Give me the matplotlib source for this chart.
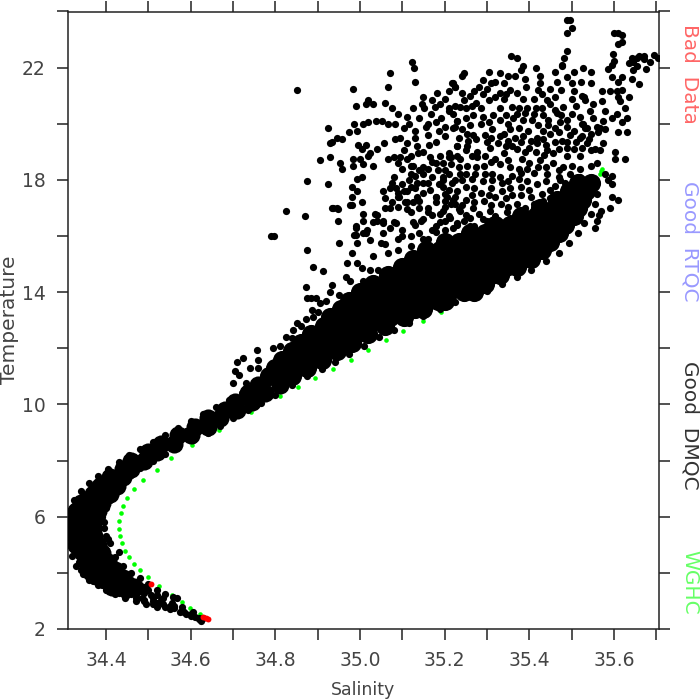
import matplotlib
matplotlib.use("Agg")
import matplotlib.pyplot as plt

# WGHC climatology
wghc_S = [34.622,34.598,34.58,34.556,34.525,34.5,34.48,34.466,34.454,34.445,34.438,34.433,34.431,34.431,34.436,34.44,34.45,34.466,34.488,34.52,34.554,34.603,34.667,34.743,34.811,34.854,34.894,34.937,34.979,35.019,35.062,35.102,35.149,35.192,35.566,35.569,35.571]
wghc_T = [2.55,2.75,2.96,3.2,3.53,3.85,4.1,4.33,4.55,4.78,5.05,5.3,5.58,5.85,6.12,6.38,6.66,7.0,7.3,7.67,8.08,8.55,9.1,9.73,10.3,10.63,10.94,11.28,11.6,11.93,12.28,12.6,12.96,13.3,18.2,18.3,18.4]

# Bad data
bad_S = [34.506,34.63,34.636,34.64]
bad_T = [3.6,2.42,2.38,2.35]

# Dense part of the T-S body: one S list per temperature level
cold_T = [3.5,3.8,4.1,4.4,4.7,5.0,5.3,5.6,5.9,6.2,6.5,6.8,7.1,7.4,7.7,8.0,8.3,8.6,8.9,9.2,9.5,9.8,10.1,10.4,10.7]
cold_S = [
 [34.415,34.44,34.465],[34.385,34.41,34.44],[34.37,34.395,34.42],[34.355,34.38,34.405],
 [34.345,34.37,34.39],[34.33,34.355,34.38],[34.327,34.35,34.372],[34.327,34.35,34.37],
 [34.327,34.35,34.372],[34.33,34.355,34.38],[34.34,34.365,34.39],[34.37,34.395,34.41],
 [34.385,34.41,34.425],[34.41,34.44],[34.44,34.46],[34.46,34.49],[34.50,34.52],[34.53,34.56],
 [34.57,34.60],[34.61,34.64],[34.64,34.67],[34.68,34.71],[34.705,34.745],[34.735,34.775],
 [34.76,34.81]]
warm_T = [11.0,11.3,11.6,11.9,12.2,12.5,12.8,13.1,13.4,13.7,14.0,14.3,14.6,14.9,15.2,15.5,15.8,16.1,16.4,16.7,17.0,17.3,17.6,17.9]
warm_S = [
 [34.785,34.82,34.84],[34.80,34.835,34.875],[34.815,34.85,34.885,34.91],
 [34.84,34.875,34.91,34.945],[34.86,34.895,34.93,34.965,34.98],[34.885,34.92,34.955,34.99,35.02],
 [34.915,34.95,34.985,35.02,35.06],[34.93,34.965,35.0,35.035,35.07,35.105],
 [34.955,34.99,35.025,35.06,35.095,35.13,35.15],[34.975,35.01,35.045,35.08,35.115,35.15,35.185,35.2],
 [35.0,35.035,35.07,35.105,35.14,35.175,35.21,35.245,35.27],[35.03,35.065,35.1,35.135,35.17,35.205,35.24,35.275,35.295],
 [35.065,35.1,35.135,35.17,35.205,35.24,35.275,35.31,35.33],[35.1,35.135,35.17,35.205,35.24,35.275,35.31,35.345,35.37],
 [35.125,35.16,35.195,35.23,35.265,35.30,35.335,35.37,35.405],[35.155,35.19,35.225,35.26,35.295,35.33,35.365,35.40,35.43],
 [35.20,35.235,35.27,35.305,35.34,35.375,35.41,35.45],[35.26,35.295,35.33,35.365,35.40,35.435,35.47],
 [35.32,35.355,35.39,35.425,35.46,35.485],[35.38,35.415,35.45,35.485,35.505],[35.425,35.46,35.495,35.515],
 [35.465,35.495,35.525],[35.495,35.535],[35.515,35.545]]

# Outer (cold, fresh) edge of the body
edge_low = [(34.625,2.3),(34.60,2.45),(34.575,2.6),(34.55,2.7),(34.52,2.8),(34.495,2.88),(34.47,2.98),(34.445,3.1),(34.42,3.25),(34.40,3.4),(34.38,3.55),(34.36,3.75),(34.345,3.95),(34.33,4.25),(34.32,4.6),(34.315,5.0),(34.312,5.4),(34.312,5.8),(34.315,6.2),(34.325,6.6),(34.34,6.9),(34.36,7.2),(34.38,7.45),(34.405,7.7),(34.43,7.95),(34.455,8.2),(34.48,8.4),(34.51,8.65),(34.54,8.9),(34.57,9.15),(34.60,9.4),(34.63,9.65),(34.66,9.9),(34.69,10.15),(34.72,10.4),(34.74,10.6)]
tip_mid = [(34.61,2.42),(34.585,2.6),(34.56,2.75),(34.535,2.88),(34.51,3.0),(34.485,3.1),(34.46,3.25),(34.435,3.4),(34.41,3.6),(34.63,2.4),(34.605,2.6),(34.58,2.78),(34.555,2.92),(34.53,3.05),(34.505,3.2),(34.48,3.35),(34.455,3.55),(34.43,3.75),(34.45,3.65),(34.47,3.5),(34.49,3.3),(34.51,3.12),(34.44,3.25),(34.42,3.45),(34.40,3.65),(34.38,3.85),(34.335,4.4),(34.34,4.7),(34.345,4.2),(34.36,4.0),(34.375,3.75),(34.40,3.5),(34.43,3.55),(34.45,3.4),(34.47,3.2),(34.49,3.05),(34.52,2.92),(34.55,2.82),(34.59,2.55),(34.62,2.4)]
tip_up = [(34.43,4.75),(34.42,4.55),(34.44,4.25),(34.46,4.0),(34.48,3.8),(34.50,3.6),(34.52,3.4),(34.54,3.25),(34.568,3.12),(34.557,3.14)]
tip_fill = [(34.62,2.35),(34.60,2.52),(34.58,2.65),(34.56,2.82),(34.54,2.8),(34.53,2.95),(34.51,2.9),(34.49,3.0),(34.47,3.1),(34.45,3.2),(34.43,3.3),(34.41,3.4),(34.39,3.55),(34.37,3.7),(34.355,3.9),(34.34,4.1),(34.52,3.2),(34.50,3.4),(34.48,3.55),(34.46,3.75),(34.44,3.95),(34.42,4.15),(34.41,4.4),(34.40,4.7),(34.39,4.95),(34.535,3.1),(34.49,3.5),(34.47,3.65),(34.45,3.85),(34.43,4.05),(34.415,4.3),(34.40,4.5),(34.39,4.8),(34.41,3.9),(34.39,4.05),(34.375,4.3),(34.36,4.5),(34.35,4.35),(34.33,4.9),(34.32,5.2),(34.33,6.5),(34.345,6.8),(34.37,7.05),(34.39,7.3),(34.42,7.55),(34.445,7.8),(34.47,8.05),(34.5,8.3),(34.53,8.55),(34.56,8.8),(34.59,9.05),(34.62,9.35),(34.65,9.6),(34.68,9.85),(34.71,10.1),(34.74,10.35),(34.77,10.6),(34.79,10.9),(34.765,10.85)]

# Warm, saline edge of the body
edge_high = [(34.40,5.3),(34.395,5.6),(34.39,6),(34.395,5.8),(34.405,5.2),(34.41,5.05),(34.4,6.3),(34.41,6.6),(34.425,6.9),(34.44,7.2),(34.46,7.5),(34.48,7.75),(34.51,8.0),(34.54,8.25),(34.57,8.5),(34.605,8.75),(34.64,9.0),(34.67,9.25),(34.70,9.5),(34.735,9.8),(34.765,10.05),(34.80,10.35),(34.84,10.7),(34.875,11.0),(34.91,11.25),(34.94,11.5),(34.975,11.8),(35.01,12.1),(35.045,12.4),(35.08,12.65),(35.115,12.9),(35.15,13.15),(35.19,13.4),(35.225,13.65),(35.26,13.85),(35.30,14.05),(35.335,14.3),(35.37,14.55),(35.405,14.8),(35.44,15.1),(35.47,15.4),(35.495,15.75),(35.515,16.1),(35.53,16.45),(35.545,16.8),(35.555,17.15),(35.56,17.5)]

# Scatter above the body, left side
scatter_left = [(34.825,16.9),(34.87,16.7),(34.79,16.0),(34.796,16.0),(34.875,15.5),(34.89,14.9),(34.913,14.75),(34.873,14.2),(34.875,13.8),(34.885,13.8),(34.897,13.8),(34.906,13.6),(34.887,13.35),(34.89,13.1),(34.873,13.05),(34.86,12.8),(34.842,12.65),(34.84,12.35),(34.81,12.1),(34.795,12.0),(34.757,11.95),(34.724,11.65),(34.71,11.5),(34.76,11.6),(34.76,11.3),(34.74,11.3),(34.705,11.2),(34.715,11.05),(34.73,10.75),(34.70,10.75),(34.825,12.4),(34.85,12.9),(34.9,13.3),(34.92,13.7),(34.93,14.0),(34.95,13.9),
(34.934,17.0),(34.945,17.0),(34.948,16.55),(34.95,15.75),(34.977,17.1),(34.99,16.35),(34.986,16.05),(34.97,15.05),(34.993,15.05),(34.967,14.55),(34.977,14.4),(34.934,14.25),(35.007,14.4),(35.024,14.8),(35.005,14.85),(34.98,15.4),(34.992,15.75),(35.007,16.1),(35.017,16.2),(35.007,16.55),(35.007,16.8),(35.036,16.8),(35.04,16.55),(35.055,16.55),(35.024,15.85),(35.03,15.3),(35.055,16.1),(35.05,15.75),(35.065,15.4),(35.043,14.8),
(34.85,21.2),(35.123,22.2),(35.128,22.0),(35.07,21.8),(35.13,21.5),(35.067,21.3),(34.984,21.25),(35.02,20.85),(35.03,20.7),(35.015,20.7),(34.99,20.65),(35.06,20.75),(35.076,20.55),(35.09,20.35),(35.125,20.55),(34.925,19.85),(34.986,20.0),(35.008,20.0),(35.02,20.05),(35.038,20.1),(35.052,20.1),(35.067,20.0),(35.083,20.0),(34.993,19.75),(34.975,19.7),(34.946,19.5),(34.958,19.45),(34.934,19.35),(34.93,19.3),(34.996,19.25),(35.015,19.25),(35.005,19.1),(35.04,19.1),(35.057,19.3),(35.024,18.95),(35.02,18.85),(34.93,18.8),(34.906,18.7),(34.984,18.75),(35.0,18.75),(34.984,18.5),(34.953,18.6),(34.958,18.4),(35.008,18.55),(35.03,18.5),(34.875,17.95),(34.925,17.85),(34.993,18.05),(35.005,18.1),(34.98,17.75),(34.993,17.6),(34.98,17.4),(34.98,17.1),(35.005,17.2),(34.937,17.0),(34.948,16.95)]

# Ring of points near S = 35.1, and the lower middle
scatter_ring = [(35.065,18.75),(35.08,18.8),(35.095,18.8),(35.11,18.75),(35.12,18.5),(35.12,18.2),(35.115,18.0),(35.10,17.85),(35.085,17.7),(35.075,17.9),(35.08,18.1),(35.07,17.7),(35.105,17.6),(35.09,17.55),(35.055,17.6),(35.06,17.35),(35.135,17.9),(35.15,18.2),
(35.09,17.4),(35.11,17.2),(35.14,17.25),(35.07,17.0),(35.09,17.05),(35.12,16.85),(35.16,17.0),(35.18,17.4),(35.2,17.5),(35.22,17.3),(35.2,17.05),(35.08,16.5),(35.1,16.2),(35.12,16.0),(35.13,16.4),(35.15,16.6),(35.17,16.2),(35.09,15.9),(35.07,16.3),(35.16,15.9),(35.1,16.0),(35.14,16.1),(35.18,16.15),(35.22,16.3),(35.26,16.35),(35.3,16.4),(35.06,15.7),(35.09,15.5),(35.12,15.65),(35.15,15.9),
(35.148,20.95),(35.182,21.1),(35.218,21.45),(35.225,21.3),(35.147,20.7),(35.152,20.55),(35.178,20.6),(35.19,20.7),(35.21,20.55),(35.225,20.65),(35.168,20.35),(35.192,20.2),(35.22,20.35),(35.23,20.1),(35.225,19.9),(35.16,20.0),(35.155,19.9),(35.187,19.75),(35.115,20.0),(35.103,19.85),(35.083,19.45),(35.095,19.5),(35.112,19.3),(35.13,19.5),(35.105,19.05),(35.162,19.25),(35.15,19.0),(35.165,18.8),(35.138,18.95),(35.23,19.2),(35.21,18.95),(35.215,18.8),(35.23,18.85),(35.17,18.65),(35.125,18.5),(35.148,18.45),(35.14,18.35),(35.185,18.35),(35.2,18.35),(35.21,18.2),(35.195,18.1),(35.187,17.85),(35.225,18.0),(35.237,18.2),(35.148,17.9),(35.165,17.65),(35.18,17.4),(35.15,17.55),(35.135,17.4),(35.225,17.4),(35.12,17.75),(35.093,17.4),(35.107,17.2),(35.125,17.2),(35.14,17.0),(35.18,17.2),(35.17,16.75),(35.215,17.15),(35.235,16.95),(35.11,16.95),(35.075,17.2),(35.06,17.0),(35.04,16.75),(35.03,16.5),(35.055,16.45),(35.085,16.45),(35.125,16.5),(35.145,16.55),(35.19,16.5),(35.21,16.7),(35.23,16.45),(35.015,16.1),(34.99,16.3),(34.99,16.05)]

# Scatter above the body, right side
scatter_right = [(35.49,23.7),(35.497,23.7),(35.5,23.4),(35.49,23.25),(35.6,23.25),(35.61,23.25),(35.618,23.15),(35.618,22.9),(35.61,22.85),(35.488,22.6),(35.482,22.35),(35.478,22.1),(35.357,22.4),(35.372,22.35),(35.598,22.5),(35.6,22.25),(35.595,22.1),(35.585,21.95),(35.595,21.65),(35.643,22.35),(35.66,22.4),(35.67,22.4),(35.695,22.45),(35.705,22.35),(35.655,22.35),(35.685,22.2),(35.67,22.3),(35.635,22.15),(35.645,22.2),(35.655,22.05),(35.675,21.95),(35.645,21.9),(35.642,21.6),(35.62,21.65),(35.61,21.5),(35.66,21.4),(35.62,21.2),(35.572,21.15),(35.59,21.15),(35.608,21.15),(35.61,20.95),(35.635,20.95),(35.615,20.8),(35.572,20.8),(35.525,21.0),(35.532,20.85),(35.625,20.55),(35.543,20.45),(35.58,20.45),(35.607,20.35),(35.595,20.2),(35.63,20.2),(35.62,20.05),(35.575,20.1),(35.525,20.0),(35.532,19.85),(35.568,19.85),(35.58,19.8),(35.61,19.7),(35.63,19.7),(35.563,19.7),(35.547,19.65),(35.54,19.45),(35.52,19.5),(35.575,19.3),(35.603,19.0),(35.627,18.75),(35.603,18.75),(35.555,19.1),(35.568,19.05),
(35.595,17.4),(35.61,17.3),(35.59,17.0),(35.57,16.9),(35.58,18.2),(35.595,18.15),(35.585,18.0),(35.595,17.85),(35.56,16.55),(35.555,16.3),(35.565,16.75),
(35.245,21.8),(35.24,21.7),(35.22,21.45),(35.225,21.3),(35.305,21.85),(35.29,21.55),(35.31,21.45),(35.30,21.25),(35.32,21.5),(35.33,21.8),(35.35,21.7),(35.34,21.45),(35.367,21.7),(35.385,22.05),(35.38,21.9),(35.417,22.0),(35.425,21.7),(35.425,21.45),(35.42,21.2),(35.39,21.6),(35.393,21.3),(35.46,21.85),(35.465,21.5),(35.478,22.05),(35.505,21.85),(35.49,21.65),(35.5,21.45),(35.527,22.0),(35.545,21.85),(35.523,21.5),(35.545,21.45),(35.53,20.95),
(35.26,21.0),(35.245,20.85),(35.237,20.6),(35.265,20.65),(35.285,20.55),(35.268,20.3),(35.25,20.2),(35.21,20.45),(35.23,20.1),(35.305,20.85),(35.32,20.95),(35.34,20.9),(35.355,21.2),(35.33,21.1),(35.36,20.6),(35.375,20.55),(35.395,20.55),(35.415,20.55),(35.443,20.85),(35.45,20.7),(35.46,20.95),(35.465,20.4),(35.433,20.3),(35.362,20.2),(35.385,20.15),(35.407,20.15),(35.49,20.15),(35.473,20.05),(35.305,20.05),(35.285,20.0),(35.22,19.85),(35.253,19.65),(35.268,19.6),(35.312,19.8),(35.295,19.6),(35.355,19.8),(35.367,19.5),(35.397,19.75),(35.433,19.75),(35.45,19.65),(35.46,19.85),(35.418,19.5),(35.433,19.45),(35.478,19.4),(35.497,19.6),(35.527,20.0),(35.537,19.85),
(35.23,19.2),(35.253,19.2),(35.277,19.0),(35.308,19.15),(35.325,19.3),(35.34,18.95),(35.37,19.1),(35.4,19.15),(35.418,19.3),(35.443,19.05),(35.457,18.95),(35.49,18.85),(35.52,18.85),(35.505,19.1),(35.537,19.3),(35.21,18.8),(35.237,18.75),(35.253,18.5),(35.277,18.8),(35.292,18.5),(35.32,18.75),(35.35,18.7),(35.383,18.75),(35.40,18.6),(35.425,18.7),(35.457,18.6),(35.48,18.45),(35.5,18.5),(35.52,18.4),(35.545,18.5),(35.56,18.6),
(35.25,18.2),(35.272,18.2),(35.295,18.2),(35.312,18.2),(35.335,17.9),(35.36,18.15),(35.38,18.25),(35.41,18.25),(35.443,18.2),(35.47,18.1),(35.497,18.2),(35.52,18.1),(35.312,18.0),(35.218,17.9),(35.197,18.0),(35.25,17.75),(35.285,17.55),(35.23,17.6),(35.265,17.45),(35.205,17.4),(35.225,17.15),(35.292,17.25),(35.32,17.4),(35.38,17.75),(35.355,17.7),(35.4,17.65),(35.418,17.85),(35.45,17.65),(35.473,18.0),(35.433,17.25),(35.465,17.4),(35.332,17.15),(35.37,17.15),(35.41,17.15),(35.268,17.0),(35.237,16.9),(35.197,16.9),(35.308,16.9),(35.348,16.85),(35.385,16.8),(35.43,16.7),(35.213,16.65),(35.26,16.65),(35.29,16.6),(35.33,16.5),(35.37,16.5),(35.23,16.4),(35.2,16.2),(35.27,16.35)]

# Further points filling the cloud
scatter_fill = [(35.275,20.75),(35.25,20.55),(35.29,20.25),(35.26,19.95),(35.24,19.8),(35.275,19.45),(35.3,19.35),(35.255,19.4),(35.235,19.5),(35.315,20.3),(35.33,20.55),(35.345,20.3),(35.33,20.15),(35.35,20.0),(35.37,20.35),(35.34,19.65),(35.375,19.85),(35.39,20.4),(35.41,20.35),(35.43,20.55),(35.445,20.15),(35.42,19.95),(35.445,19.95),(35.38,19.35),(35.35,19.4),(35.33,19.55),(35.31,19.5),(35.46,20.5),(35.48,20.6),(35.475,20.3),(35.5,20.35),(35.51,20.65),(35.5,20.9),(35.52,20.25),(35.49,19.9),(35.505,19.75),(35.47,19.7),(35.49,19.35),(35.51,19.35),(35.525,19.55),(35.46,19.35),(35.44,19.25),(35.405,19.4),(35.385,19.55),(35.36,19.2),(35.345,19.2),(35.39,19.0),(35.415,19.0),(35.435,18.9),(35.47,19.1),(35.49,19.15),(35.525,19.15),(35.545,19.05),(35.28,21.3),(35.27,21.15),(35.29,21.05),(35.345,21.05),(35.37,21.1),(35.385,20.9),(35.41,20.9),(35.43,21.05),(35.45,21.25),(35.475,21.2),(35.505,21.15),(35.55,20.7),(35.55,20.2),(35.56,19.9),(35.25,19.05),(35.265,18.85),(35.295,18.85),(35.31,18.65),(35.33,18.55),(35.355,18.45),(35.375,18.4),(35.395,18.4),(35.42,18.45),(35.44,18.45),(35.47,18.35),(35.275,18.45),(35.235,18.45),(35.215,18.55),(35.195,18.6),(35.265,18.05),(35.29,17.95),(35.33,18.1),(35.35,17.95),(35.375,18.05),(35.395,17.95),(35.44,17.95),(35.46,17.8),(35.485,17.9),(35.24,18.0),(35.21,17.65),(35.195,17.75),(35.27,17.7),(35.31,17.7),(35.335,17.6),(35.36,17.45),(35.38,17.45),(35.405,17.4),(35.43,17.5),(35.45,17.35),(35.305,17.45),(35.345,17.35),(35.25,17.3),(35.27,17.2),(35.31,17.1),(35.35,17.05),(35.39,17.0),(35.415,16.9),(35.445,17.05),(35.455,16.8),(35.24,17.1),(35.2,17.25),(35.16,16.85),(35.19,16.8),(35.25,16.75),(35.28,16.8),(35.32,16.7),(35.355,16.65),(35.4,16.6),(35.18,16.35),(35.2,16.55),(35.245,16.55),(35.3,16.55),(35.11,17.6),(35.13,17.7),(35.16,17.9),(35.17,18.1),(35.13,18.15),(35.1,18.4),(35.09,18.6),(35.16,18.4),(35.18,18.6),(35.19,18.85),(35.12,18.85),(35.135,19.2),(35.18,19.35),(35.2,19.55),(35.16,19.6),(35.13,19.75),(35.2,19.9),(35.18,20.05),(35.14,20.2),(35.11,20.25),(35.2,20.9),(35.17,20.85),(35.24,21.1),(35.21,21.15)]

x_ticks = [34.4,34.5,34.6,34.7,34.8,34.9,35.0,35.1,35.2,35.3,35.4,35.5,35.6,35.7]
x_labels = ["34.4","","34.6","","34.8","","35.0","","35.2","","35.4","","35.6",""]
y_ticks = [2,4,6,8,10,12,14,16,18,20,22,24]
y_labels = ["2","","6","","10","","14","","18","","22",""]
side_labels = ["Bad  Data","Good  RTQC","Good  DMQC","WGHC"]
side_colors = ["#ff6666","#9999ff","#333333","#66ff66"]
side_y = [74,241,425,582]

fig = plt.figure(figsize=(7,7),dpi=100)
ax = fig.add_axes([68/700,71/700,591/700,617.5/700])

small_pts = edge_low+tip_mid+tip_up+tip_fill+edge_high+scatter_left+scatter_ring+scatter_right+scatter_fill
ax.scatter(wghc_S,wghc_T,s=11,c="#00ff00",linewidths=0,zorder=2)
ax.scatter([s for row in cold_S for s in row],[t for t,row in zip(cold_T,cold_S) for s in row],s=170,c="black",linewidths=0,zorder=3)
ax.scatter([s for row in warm_S for s in row],[t for t,row in zip(warm_T,warm_S) for s in row],s=190,c="black",linewidths=0,zorder=3)
ax.scatter([p[0] for p in small_pts],[p[1] for p in small_pts],s=27,c="black",linewidths=0,zorder=3)
ax.scatter(bad_S,bad_T,s=18,c="#ff0000",linewidths=0,zorder=4)

ax.set_xlim(34.31,35.7065)
ax.set_ylim(2,24)
ax.set_xticks(x_ticks); ax.set_xticklabels(x_labels)
ax.set_yticks(y_ticks); ax.set_yticklabels(y_labels)
ax.tick_params(axis="both",which="major",direction="out",length=8,width=1.1,color="#222222",labelcolor="#444444",labelsize=13.5,top=True,right=True,pad=8)
for sp in ax.spines.values():
    sp.set_linewidth(1.1); sp.set_color("#222222")
ax.set_xlabel("Salinity",fontsize=12.5,color="#444444",labelpad=8)
ax.set_ylabel("Temperature",fontsize=14.5,color="#444444",labelpad=2)

for lab,col,yp in zip(side_labels,side_colors,side_y):
    fig.text(690/700,1-yp/700,lab,rotation=-90,color=col,fontsize=14.5,ha="center",va="center")

fig.savefig("out.png",dpi=100)
